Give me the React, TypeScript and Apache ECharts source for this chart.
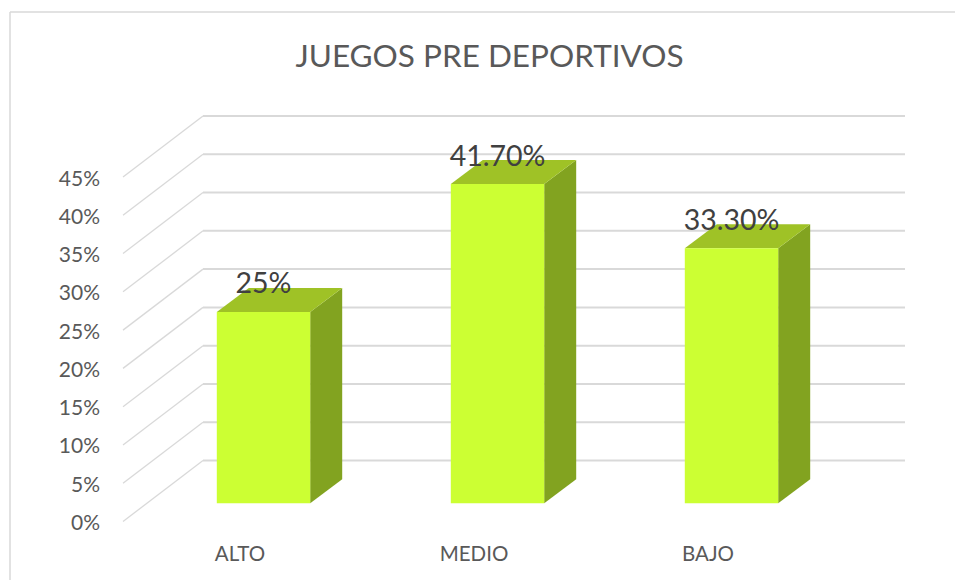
import React, { useEffect, useRef } from "react";
import * as echarts from "echarts";

const titleText = "JUEGOS PRE DEPORTIVOS";
const categories = ["ALTO", "MEDIO", "BAJO"];
const seriesValues = [25, 41.7, 33.3];
const valueLabels = ["25%", "41.70%", "33.30%"];
const tickValues = [0, 5, 10, 15, 20, 25, 30, 35, 40, 45];

const FONT = "Lato, sans-serif";
const WALL_DX = 80;
const WALL_DY = -61;
const BAR_OFFSET_X = 23.5;
const BAR_OFFSET_Y = -18.2;
const BAR_W = 93.4;
const BAR_DX = 32;
const BAR_DY = -24;
const GRID_COLOR = "#D9D9D9";

export default function App() {
  const ref = useRef<HTMLDivElement>(null);
  useEffect(() => {
    const chart = echarts.init(ref.current!, null, { renderer: "svg" });
    chart.setOption({
      animation: false,
      backgroundColor: "#FFFFFF",
      title: {
        text: titleText,
        left: 484.5,
        top: 31,
        textAlign: "center",
        textStyle: { fontFamily: FONT, fontSize: 31.5, fontWeight: 400, color: "#595959", lineHeight: 38 },
      },
      grid: { left: 123, top: 177, width: 702, height: 344.5 },
      xAxis: {
        type: "category",
        data: categories,
        axisLine: { show: false },
        axisTick: { show: false },
        axisLabel: { margin: 21, fontFamily: FONT, fontSize: 20.5, color: "#595959" },
      },
      yAxis: {
        type: "value",
        min: 0,
        max: 45,
        interval: 5,
        axisLine: { show: false },
        axisTick: { show: false },
        splitLine: { show: false },
        axisLabel: { margin: 23, fontFamily: FONT, fontSize: 21, color: "#595959", formatter: "{value}%" },
      },
      graphic: [
        { type: "line", shape: { x1: 10, y1: 12, x2: 955, y2: 12 }, style: { stroke: "#D9D9D9", lineWidth: 1.5 } },
        { type: "line", shape: { x1: 10, y1: 12, x2: 10, y2: 580 }, style: { stroke: "#D9D9D9", lineWidth: 1.5 } },
      ],
      series: [
        {
          type: "custom",
          z: 1,
          silent: true,
          data: tickValues.map((v) => [0, v]),
          encode: { x: 0, y: 1 },
          renderItem: (params: any, api: any) => {
            const y = api.coord([0, api.value(1)])[1];
            const cs = params.coordSys;
            return {
              type: "group",
              children: [
                {
                  type: "polyline",
                  shape: {
                    points: [
                      [cs.x, y],
                      [cs.x + WALL_DX, y + WALL_DY],
                    ],
                  },
                  style: { stroke: GRID_COLOR, lineWidth: 1.3, fill: "none" },
                },
                {
                  type: "polyline",
                  shape: {
                    points: [
                      [cs.x + WALL_DX, y + WALL_DY],
                      [cs.x + cs.width + WALL_DX, y + WALL_DY],
                    ],
                  },
                  style: { stroke: GRID_COLOR, lineWidth: 2, fill: "none" },
                },
              ],
            };
          },
        },
        {
          type: "custom",
          z: 2,
          silent: true,
          data: seriesValues.map((v, i) => [i, v]),
          encode: { x: 0, y: 1 },
          renderItem: (params: any, api: any) => {
            const idx = api.value(0);
            const top = api.coord([idx, api.value(1)]);
            const base = api.coord([idx, 0]);
            const x0 = top[0] + BAR_OFFSET_X - BAR_W / 2;
            const x1 = x0 + BAR_W;
            const yT = top[1] + BAR_OFFSET_Y;
            const yB = base[1] + BAR_OFFSET_Y;
            return {
              type: "group",
              children: [
                {
                  type: "polygon",
                  shape: { points: [[x1, yT], [x1 + BAR_DX, yT + BAR_DY], [x1 + BAR_DX, yB + BAR_DY], [x1, yB]] },
                  style: { fill: "#82A320" },
                },
                {
                  type: "polygon",
                  shape: { points: [[x0, yT], [x0 + BAR_DX, yT + BAR_DY], [x1 + BAR_DX, yT + BAR_DY], [x1, yT]] },
                  style: { fill: "#9FC226" },
                },
                {
                  type: "rect",
                  shape: { x: x0, y: yT, width: BAR_W, height: yB - yT },
                  style: { fill: "#CCFF33" },
                },
              ],
            };
          },
        },
        {
          type: "scatter",
          z: 3,
          silent: true,
          symbolSize: 1,
          itemStyle: { color: "transparent", opacity: 1 },
          data: seriesValues.map((v, i) => [i, v]),
          label: {
            show: true,
            position: "inside",
            offset: [BAR_OFFSET_X, BAR_OFFSET_Y - 29.5],
            formatter: (p: any) => valueLabels[p.dataIndex],
            fontFamily: FONT,
            fontSize: 28.5,
            opacity: 1,
            color: "#404040",
          },
        },
      ],
    });
    return () => chart.dispose();
  }, []);
  return <div ref={ref} style={{ position: "fixed", left: 0, top: 0, width: 955, height: 580 }} />;
}
